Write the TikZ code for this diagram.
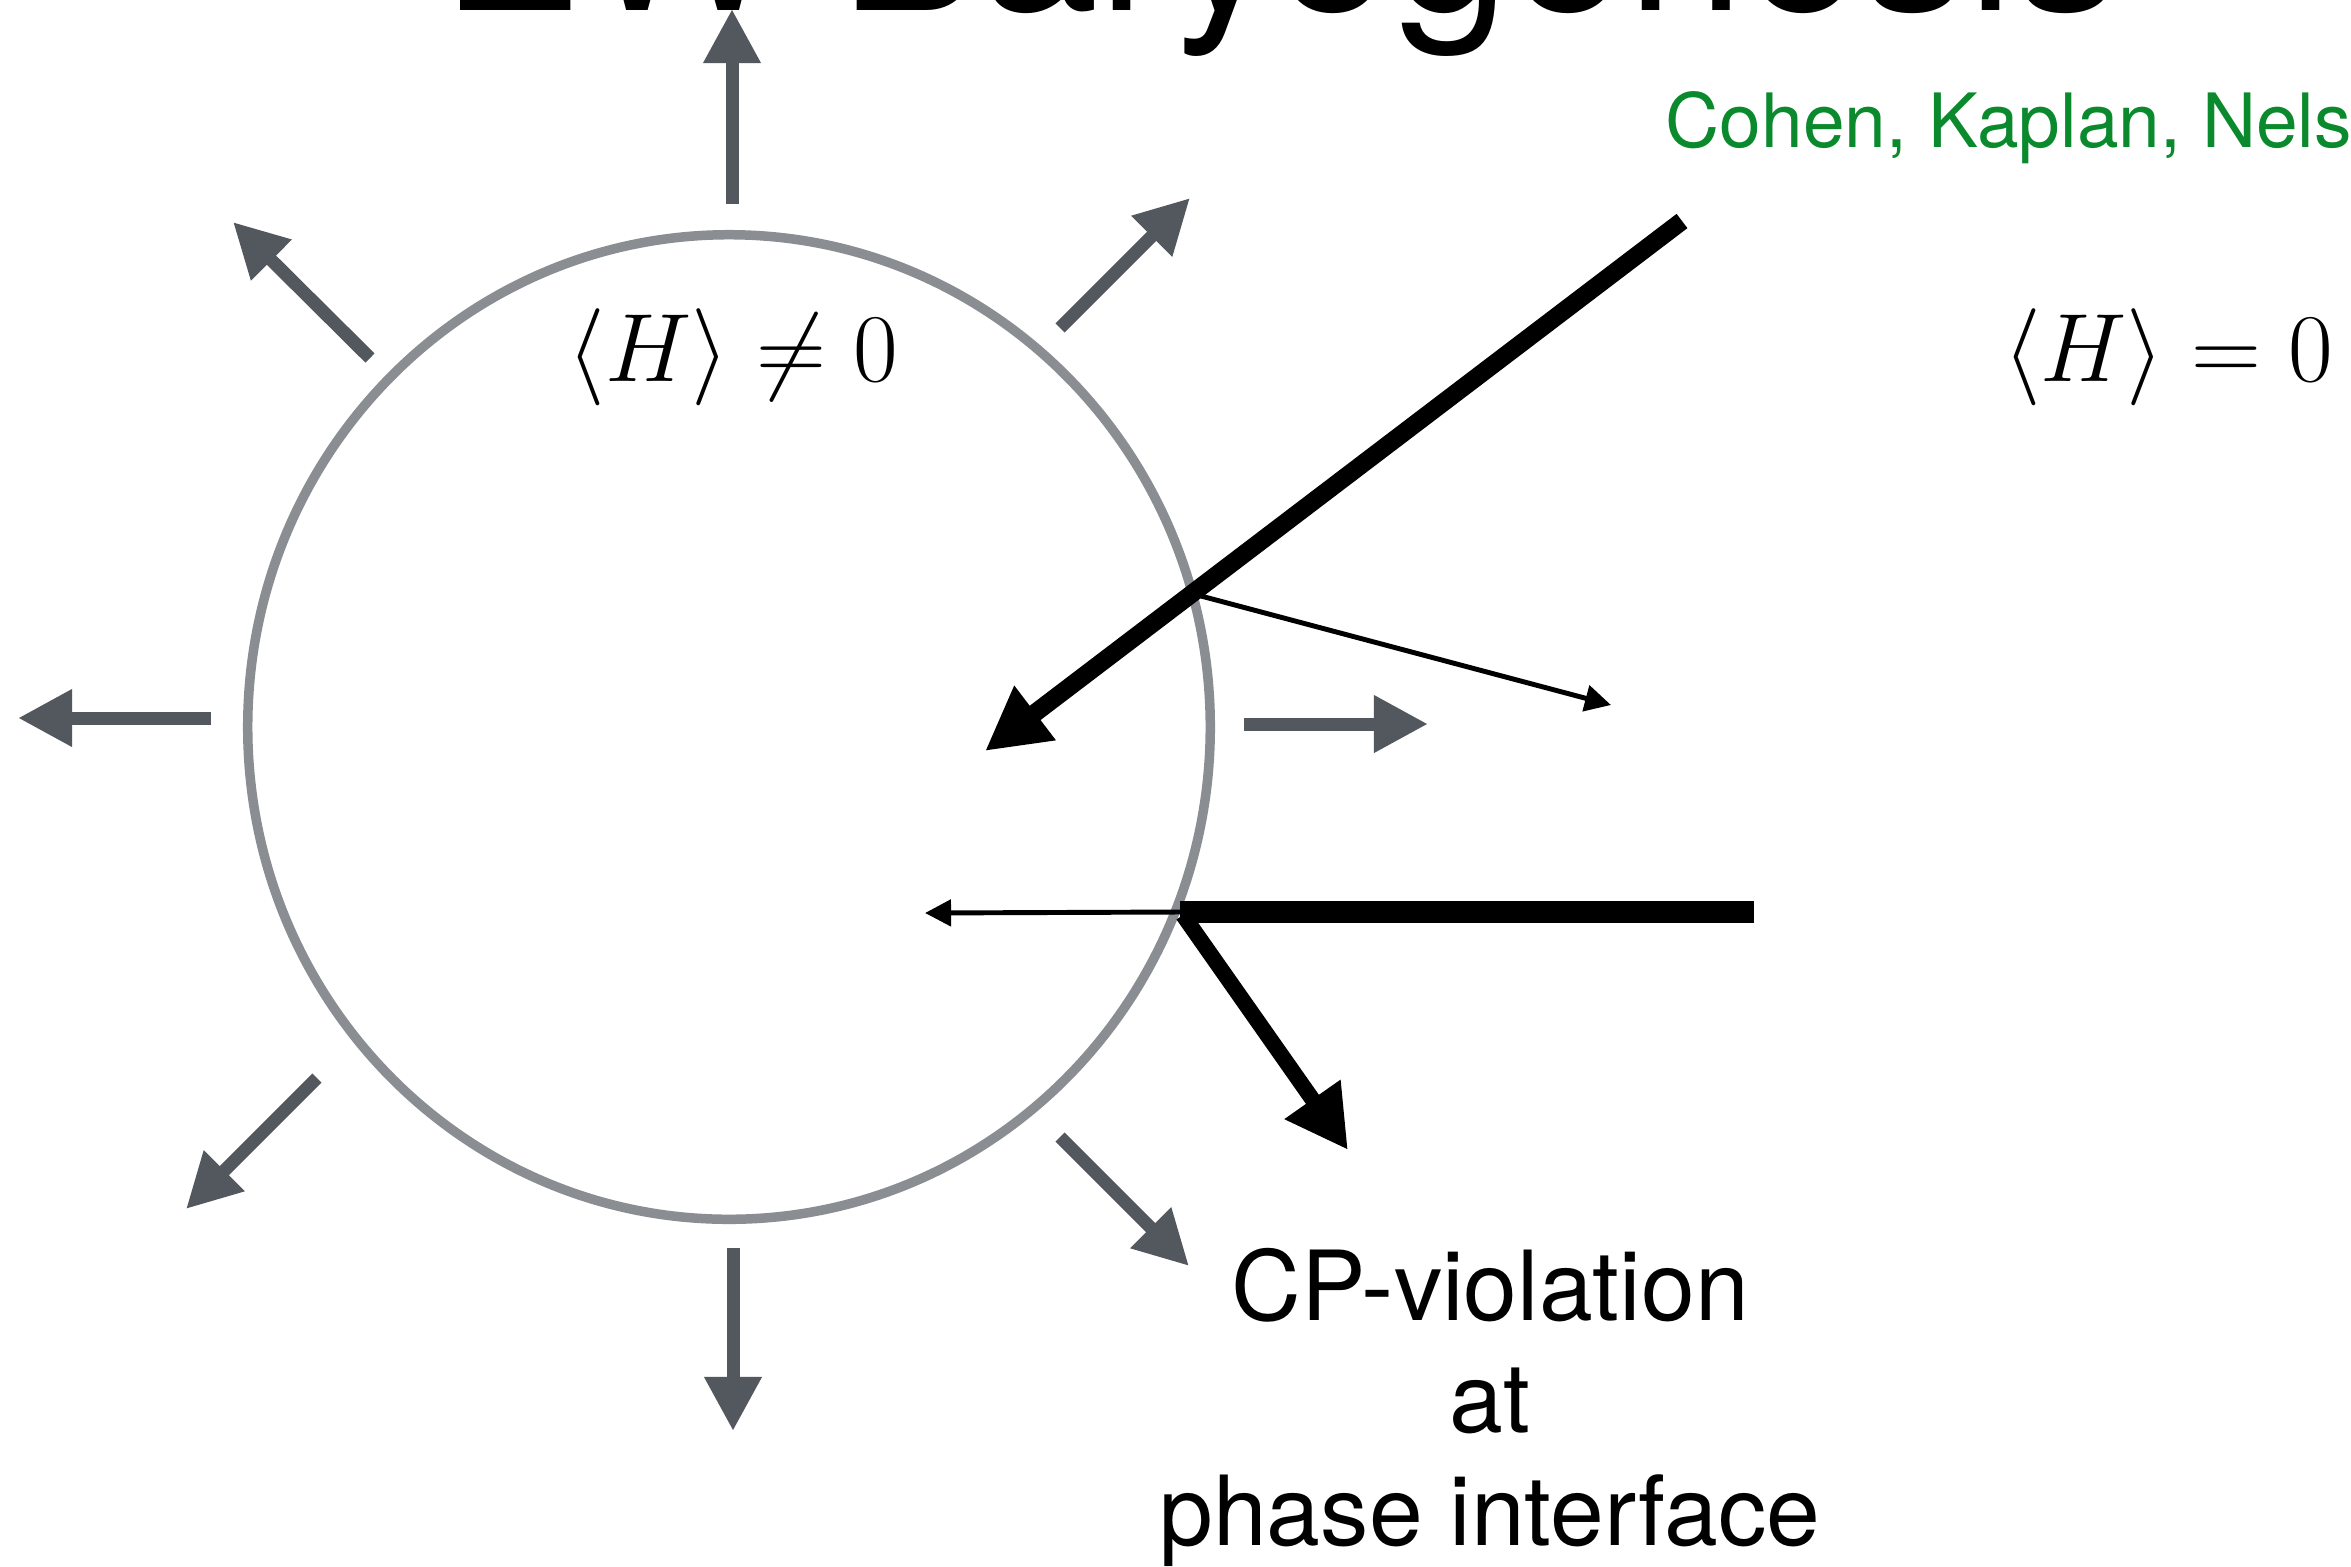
\RequirePackage{fix-cm}
\documentclass[tikz,border=0pt]{standalone}
\usepackage{fontspec}
\setsansfont{TeX Gyre Heros}
\usetikzlibrary{arrows.meta,shapes.geometric}
\definecolor{bubblegray}{RGB}{138,141,145}
\definecolor{flowgray}{RGB}{83,87,94}
\definecolor{citegreen}{RGB}{10,137,45}
\begin{document}
\begin{tikzpicture}[x=0.01cm,y=-0.01cm,
  flow/.style={draw=flowgray, line width=3.7pt, -{Triangle[length=15.4pt,width=15.4pt]}},
  heavy/.style={draw=black, line width=5.1pt, -{Triangle[length=17.9pt,width=18.2pt]}},
  heavyb/.style={draw=black, line width=4.5pt, -{Triangle[length=17.6pt,width=18.2pt]}},
  thinray/.style={draw=black, line width=1.4pt, -{Triangle[length=7.4pt,width=7.4pt]}},
  bar/.style={draw=black, line width=6pt},
  lbl/.style={inner sep=0pt, font=\sffamily\fontsize{27.5pt}{32pt}\selectfont, anchor=base},
  mathlbl/.style={inner sep=0pt, font=\fontsize{27.6pt}{32pt}\selectfont}
]
\useasboundingbox (0,0) rectangle (2351,1566);
\clip (0,0) rectangle (2351,1566);
\fill[white] (0,0) rectangle (2351,1566);

% title (cut at the top edge)
\node[anchor=base west, inner sep=0pt, font=\sffamily\fontsize{60pt}{62pt}\selectfont] (title) at (441,10) {EW Baryogenesis};

% citation
\node[anchor=base west, inner sep=0pt, text=citegreen, font=\sffamily\fontsize{21.3pt}{26pt}\selectfont] (cite) at (1665,147) {Cohen, Kaplan, Nels};

% bubble
\node[ellipse, draw=bubblegray, line width=2.7pt, inner sep=0pt, minimum width=9.62cm, minimum height=9.84cm] (bubble) at (729,727) {};

% expansion arrows
\coordinate (s1) at (732,204);   \coordinate (t1) at (732,9);
\coordinate (s2) at (1060,328);  \coordinate (t2) at (1190,198);
\coordinate (s3) at (370,358);   \coordinate (t3) at (233,222);
\coordinate (s4) at (211,718);   \coordinate (t4) at (18,718);
\coordinate (s5) at (1244,724);  \coordinate (t5) at (1428,724);
\coordinate (s6) at (317,1078);  \coordinate (t6) at (186,1209);
\coordinate (s7) at (733,1248);  \coordinate (t7) at (733,1431);
\coordinate (s8) at (1060,1137); \coordinate (t8) at (1189,1266);
\foreach \i in {1,...,8} { \draw[flow] (s\i) -- (t\i); }

% incoming particle, reflected and transmitted
\coordinate (inA) at (1682,221);
\coordinate (tipA) at (985,751);
\coordinate (hitA) at (1201,596);
\coordinate (tipB) at (1611,705);
\draw[heavy] (inA) -- (tipA);
\draw[thinray] (hitA) -- (tipB);

\coordinate (inC) at (1754,912);
\coordinate (hitC) at (1180,912);
\coordinate (tipD) at (925,913);
\coordinate (hitE) at (1183,915);
\coordinate (tipE) at (1348,1150);
\draw[bar] (inC) -- (hitC);
\draw[thinray] (hitC) -- (tipD);
\draw[heavyb] (hitE) -- (tipE);

% labels
\node[mathlbl] (inside) at (733,357) {$\langle H\rangle \neq 0$};
\node[mathlbl] (outside) at (2168,357) {$\langle H\rangle = 0$};
\node[lbl] (cp1) at (1490,1320) {CP-violation};
\node[lbl] (cp2) at (1490,1432) {at};
\node[lbl] (cp3) at (1490,1545) {phase interface};
\end{tikzpicture}
\end{document}
